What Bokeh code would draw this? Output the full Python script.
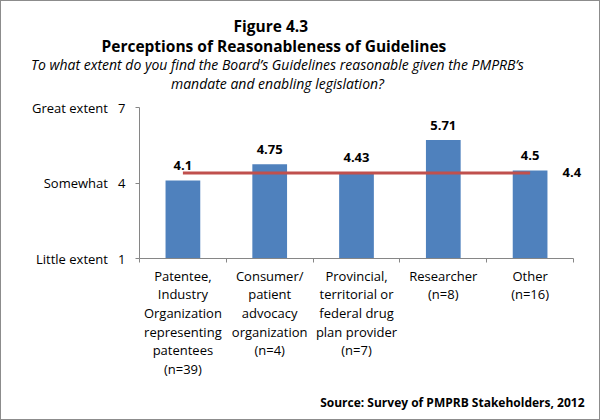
from bokeh.plotting import figure
from bokeh.models import Range1d, FixedTicker, LabelSet, ColumnDataSource, Title, LinearAxis
from bokeh.core.properties import value
from bokeh.embed import file_html
from bokeh.resources import INLINE

# ---- data ----
categories = [
    "Patentee,\nIndustry\nOrganization\nrepresenting\npatentees\n(n=39)",
    "Consumer/\npatient\nadvocacy\norganization\n(n=4)",
    "Provincial,\nterritorial or\nfederal drug\nplan provider\n(n=7)",
    "Researcher\n(n=8)",
    "Other\n(n=16)",
]
values = [4.1, 4.75, 4.43, 5.71, 4.5]
value_labels = ["4.1", "4.75", "4.43", "5.71", "4.5"]
average = 4.4
average_label = "4.4"
y_ticks = [1, 4, 7]
y_tick_words = ["Little extent", "Somewhat", "Great extent"]

title_1 = "Figure 4.3"
title_2 = "Perceptions of Reasonableness of Guidelines"
subtitle_1 = "To what extent do you find the Board\u2019s Guidelines reasonable given the PMPRB\u2019s"
subtitle_2 = "mandate and enabling legislation?"
source_text = "Source: Survey of PMPRB Stakeholders, 2012"

FONT = "Open Sans"
BAR = "#4F81BD"
RED = "#C0504D"
AXIS = "#868686"

n = len(categories)
xs = [i + 0.5 for i in range(n)]

p = figure(width=600, height=420, x_range=Range1d(0, n), y_range=Range1d(1, 7),
           output_backend="svg", toolbar_location=None,
           min_border_left=138, min_border_right=28, min_border_top=106, min_border_bottom=161)
p.outline_line_color = None
p.xgrid.visible = False
p.ygrid.visible = False
p.background_fill_color = "white"
p.border_fill_color = "white"
p.styles = {"border": "1px solid #8C8C8C", "box-sizing": "border-box"}

src = ColumnDataSource(dict(x=xs, top=values, lab=value_labels))
p.vbar(x="x", top="top", bottom=1, width=0.4, source=src, fill_color=BAR, line_color=None)
p.line(xs, [average] * n, line_color=RED, line_width=3)

p.add_layout(LabelSet(x="x", y="top", text="lab", source=src, text_align="center",
                      text_baseline="alphabetic", y_offset=10, text_font=value(FONT),
                      text_font_style="bold", text_font_size="13px", text_color="black"))

# x axis
xa = p.xaxis[0]
xa.ticker = FixedTicker(ticks=xs, minor_ticks=list(range(n + 1)))
xa.major_label_overrides = {x: c for x, c in zip(xs, categories)}
xa.major_tick_out = 0
xa.major_tick_in = 0
xa.minor_tick_out = 4
xa.minor_tick_in = 0
xa.minor_tick_line_color = AXIS
xa.axis_line_color = AXIS
xa.major_label_standoff = 4
xa.major_label_text_font = FONT
xa.major_label_text_font_size = "13px"
xa.major_label_text_line_height = 1.04
xa.major_label_text_color = "black"

# y axis
ya = p.yaxis[0]
ya.ticker = FixedTicker(ticks=y_ticks, minor_ticks=[])
ya.major_label_overrides = {t: w + " \u00a0\u00a0" + str(t) for t, w in zip(y_ticks, y_tick_words)}
ya.major_tick_out = 4
ya.major_tick_in = 0
ya.major_tick_line_color = AXIS
ya.axis_line_color = AXIS
ya.major_label_standoff = 10
ya.major_label_text_font = FONT
ya.major_label_text_font_size = "13px"
ya.major_label_text_color = "black"

# average value label on the right edge
ra = LinearAxis(ticker=FixedTicker(ticks=[average], minor_ticks=[]),
                major_label_overrides={average: average_label})
ra.axis_line_color = None
ra.major_tick_line_color = None
ra.major_tick_out = 0
ra.major_tick_in = 0
ra.major_label_standoff = -11
ra.major_label_text_font = FONT
ra.major_label_text_font_style = "bold"
ra.major_label_text_font_size = "13px"
ra.major_label_text_color = "black"
p.add_layout(ra, "right")

# spacer between plot and titles
p.add_layout(Title(text=" ", standoff=0, text_font=FONT, text_font_size="9.5px"), "above")
# titles (first added is nearest the plot)
for text, off, size, style, so in [
    (subtitle_2, 31.5, "14px", "italic", 0),
    (subtitle_1, -108.5, "14px", "italic", -5),
    (title_2, -38, "15.5px", "bold", -3),
    (title_1, 94, "15.5px", "bold", -4),
]:
    p.add_layout(Title(text=text, align="left", offset=off, standoff=so, text_font=FONT,
                       text_font_style=style, text_font_size=size, text_color="black"), "above")

p.add_layout(Title(text=source_text, align="right", offset=-11, standoff=21, text_font=FONT,
                   text_font_style="bold", text_font_size="12px", text_color="black"), "below")

open("out.html", "w").write(file_html(p, INLINE))
